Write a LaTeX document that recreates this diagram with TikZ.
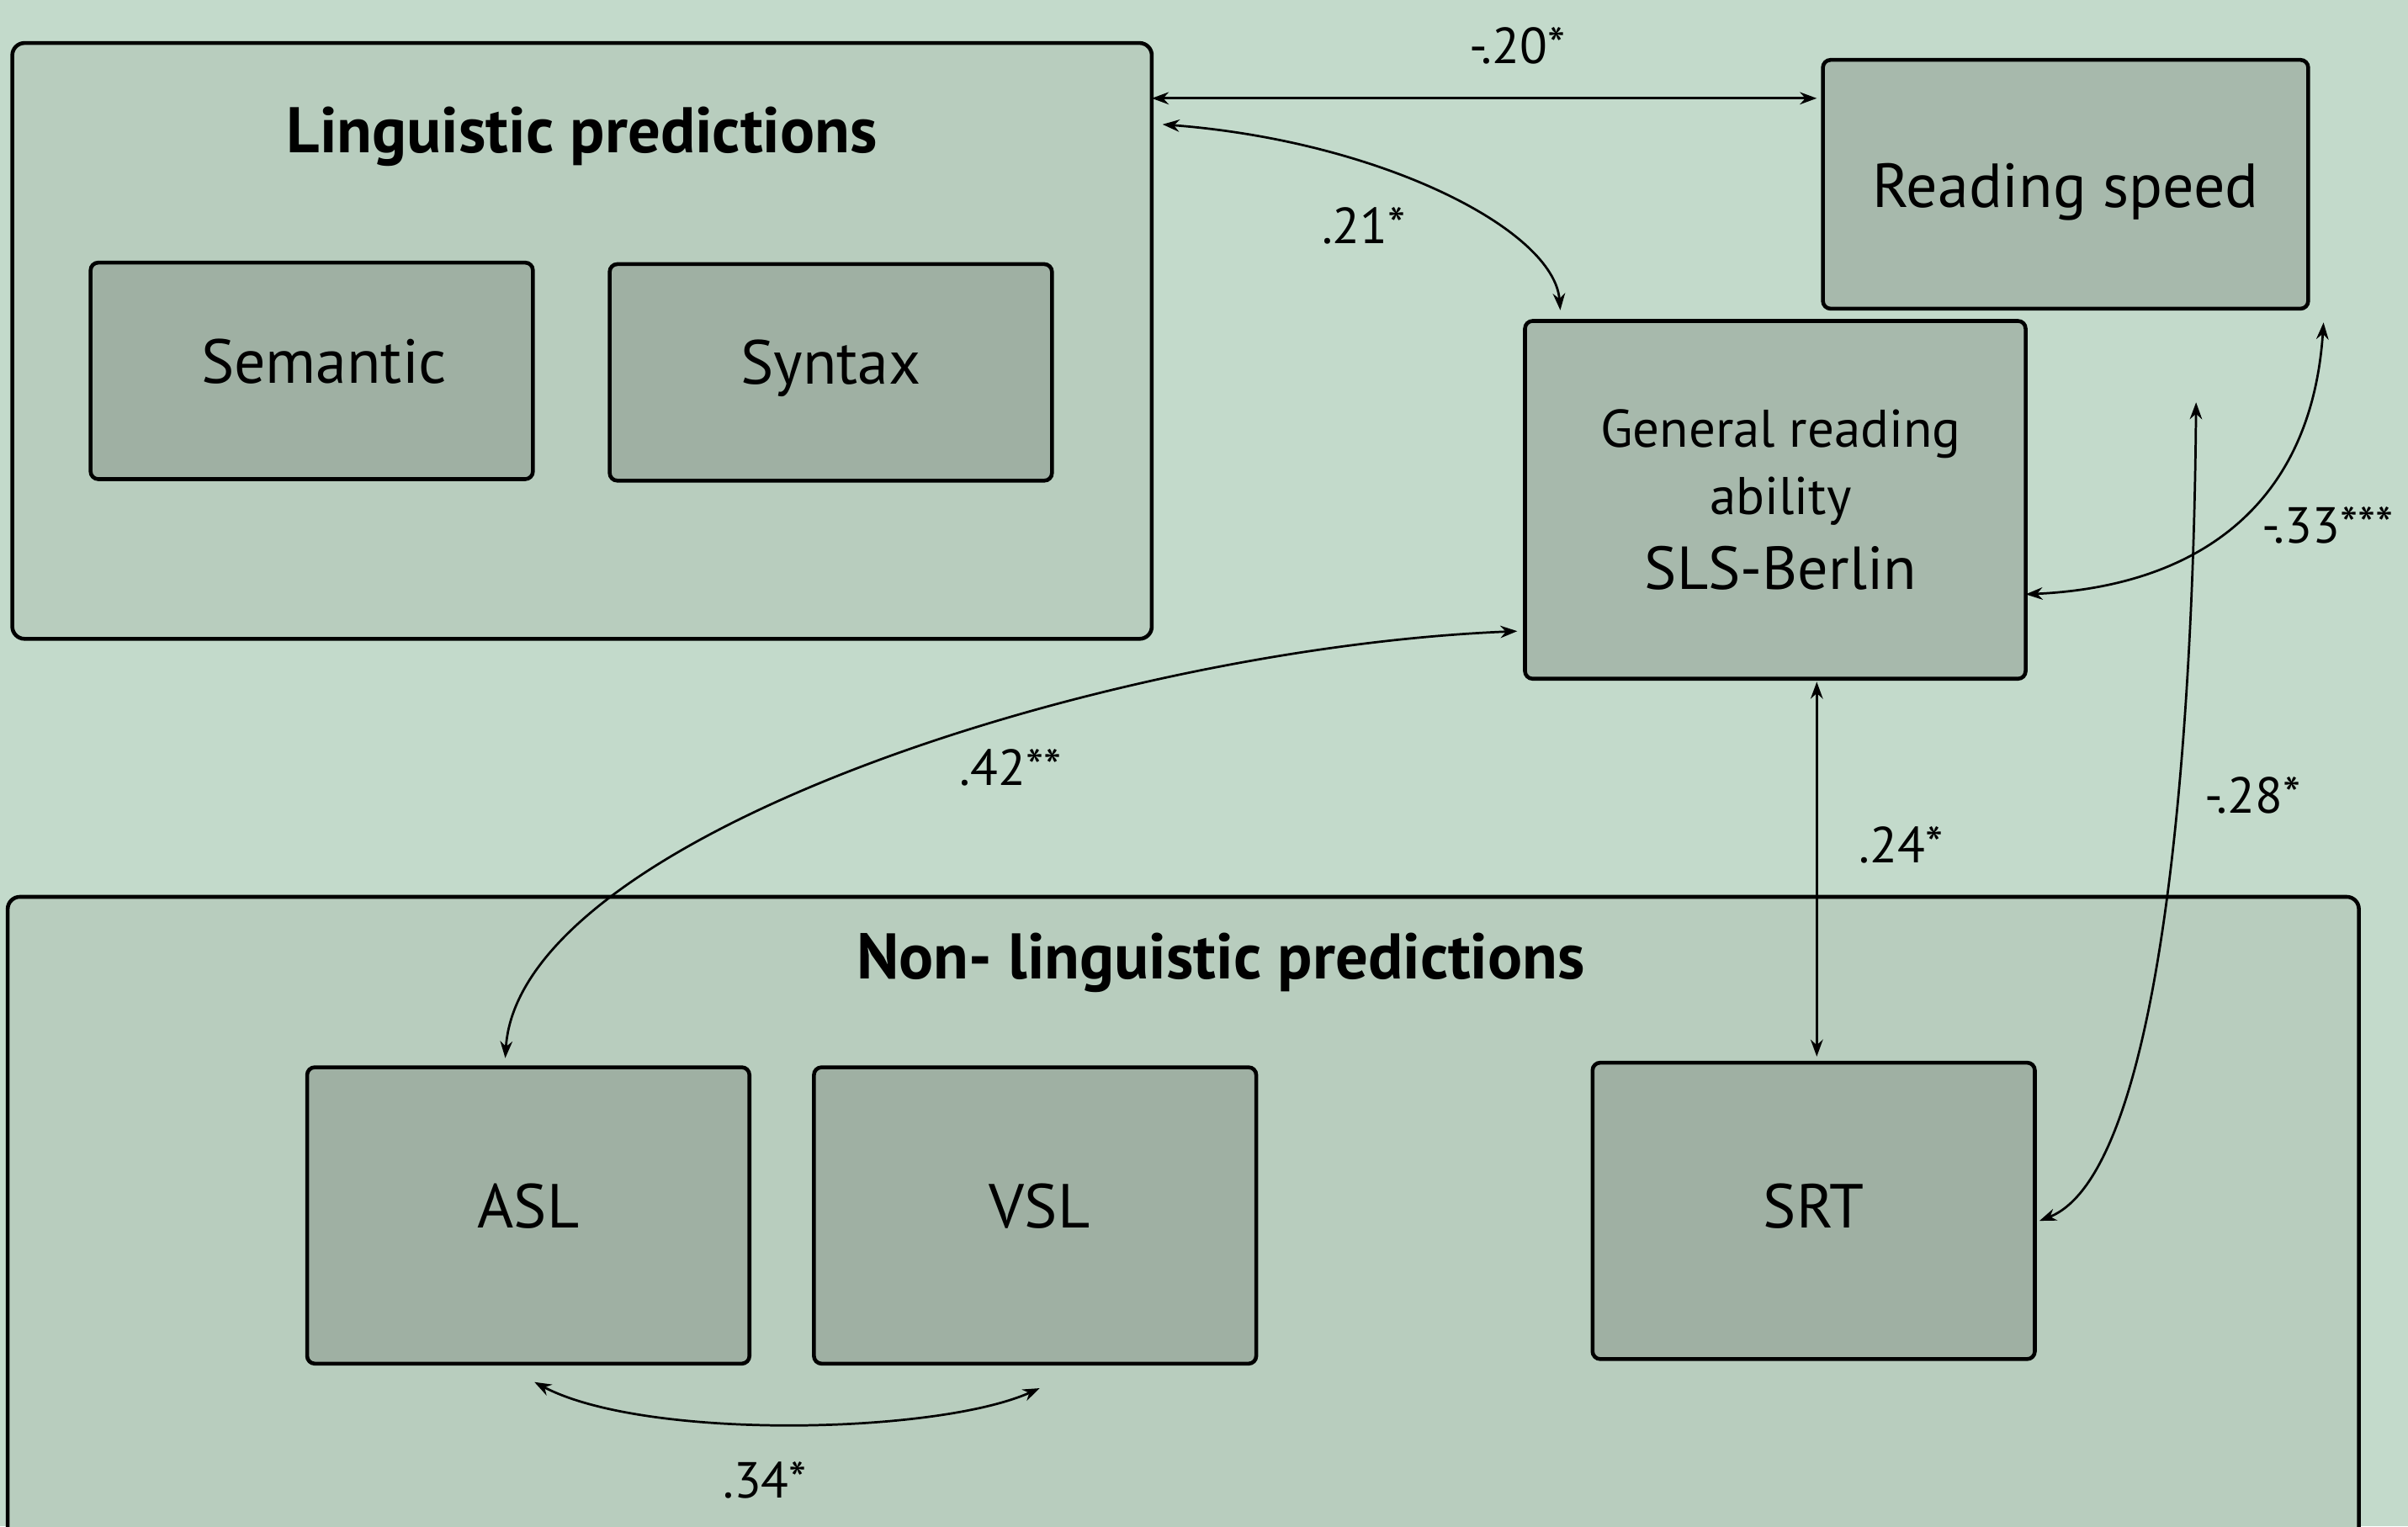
\documentclass[tikz,border=0pt]{standalone}
\usepackage{fontspec}
\setmainfont{PT Sans}
\usetikzlibrary{arrows.meta,calc}
\definecolor{bgc}{HTML}{C3DACB}
\definecolor{outerc}{HTML}{B8CDBE}
\definecolor{innerc}{HTML}{9FB0A3}
\definecolor{midc}{HTML}{A7B9AC}
\tikzset{
  every node/.style={inner sep=0pt,outer sep=0pt},
  group/.style={draw=black,line width=2.5pt,fill=outerc,rounded corners=8pt,rectangle},
  varbox/.style={draw=black,line width=2.5pt,fill=innerc,rounded corners=5pt,rectangle,font=\fontsize{40.5}{46}\selectfont},
  topbox/.style={varbox,fill=midc},
  grouptitle/.style={font=\fontsize{42}{48}\selectfont\bfseries},
  coef/.style={font=\fontsize{33}{38}\selectfont},
  link/.style={line width=1.5pt,{Stealth[length=11pt,width=8pt]}-{Stealth[length=11pt,width=8pt]}}
}
\begin{document}
\begin{tikzpicture}[x=1pt,y=-1pt]
\fill[bgc] (0,0) rectangle (1568,994);
\useasboundingbox (0,0) rectangle (1568,994);
\begin{scope}
\clip (0,0) rectangle (1568,994);
% groups
\node[group,minimum width=742pt,minimum height=388pt] (ling) at (379,222) {};
\node[grouptitle] (lingt) at (379,89) {Linguistic predictions};
\node[group,minimum width=1531pt,minimum height=440pt] (nonling) at (770.5,804) {};
\node[grouptitle] (nonlingt) at (795,627) {Non- linguistic predictions};
% variable boxes
\node[varbox,minimum width=288pt,minimum height=141pt] (sem) at (203,241.5) {\hspace*{16pt}\raisebox{13pt}{Semantic}};
\node[varbox,minimum width=288pt,minimum height=141pt] (syn) at (541,242.5) {\raisebox{14pt}{Syntax}};
\node[topbox,minimum width=316pt,minimum height=162pt] (rs) at (1345,120) {\raisebox{-5pt}[\height][\depth]{Reading speed}};
\node[topbox,minimum width=326pt,minimum height=233pt,align=center] (sls) at (1156,325.5)
  {\hspace*{7pt}{\fontsize{34.5}{40}\selectfont General reading}\\[-2pt]\hspace*{7pt}{\fontsize{34.5}{40}\selectfont ability}\\[3pt]\hspace*{7pt}{\fontsize{39.5}{45}\selectfont SLS-Berlin}};
\node[varbox,minimum width=288pt,minimum height=193pt] (asl) at (344,791.5) {\raisebox{13pt}{ASL}};
\node[varbox,minimum width=288pt,minimum height=193pt] (vsl) at (674,791.5) {\hspace*{6pt}\raisebox{13pt}{VSL}};
\node[varbox,minimum width=288pt,minimum height=193pt] (srt) at (1181,788.5) {\raisebox{7pt}{SRT}};
% connector end points
\coordinate (p20a) at (ling.east |- 0,64);
\coordinate (p20b) at (1183,64);
\coordinate (p21a) at (757,81);
\coordinate (p21b) at (1016,202);
\coordinate (p33a) at (1513,210);
\coordinate (p33b) at (sls.east |- 0,387);
\coordinate (p28a) at (1430,262);
\coordinate (p28b) at (1328,795);
\coordinate (p24a) at (1183,444);
\coordinate (p24b) at (1183,688);
\coordinate (p42a) at (988,411);
\coordinate (p42b) at (329,689);
\coordinate (p34a) at (348,900);
\coordinate (p34b) at (677,904);
% connectors
\draw[link] (p20a) -- (p20b);
\draw[link] (p21a) .. controls (900,92) and (1012,150) .. (p21b);
\draw[link] (p33a) .. controls (1505,330) and (1430,382) .. (p33b);
\draw[link] (p28a) .. controls (1428,500) and (1405,765) .. (p28b);
\draw[link] (p24a) -- (p24b);
\draw[link] (p42a) .. controls (720,422) and (338,545) .. (p42b);
\draw[link] (p34a) .. controls (420,938) and (610,934) .. (p34b);
% coefficients
\node[coef] (c20) at (988,30) {-.20*};
\node[coef] (c21) at (888,147) {.21*};
\node[coef,anchor=west] (c33) at (1473,342) {-.33***};
\node[coef] (c28) at (1467,518) {-.28*};
\node[coef] (c24) at (1238,550) {.24*};
\node[coef] (c42) at (658,500) {.42**};
\node[coef] (c34) at (498,964) {.34*};
\end{scope}
\end{tikzpicture}
\end{document}
